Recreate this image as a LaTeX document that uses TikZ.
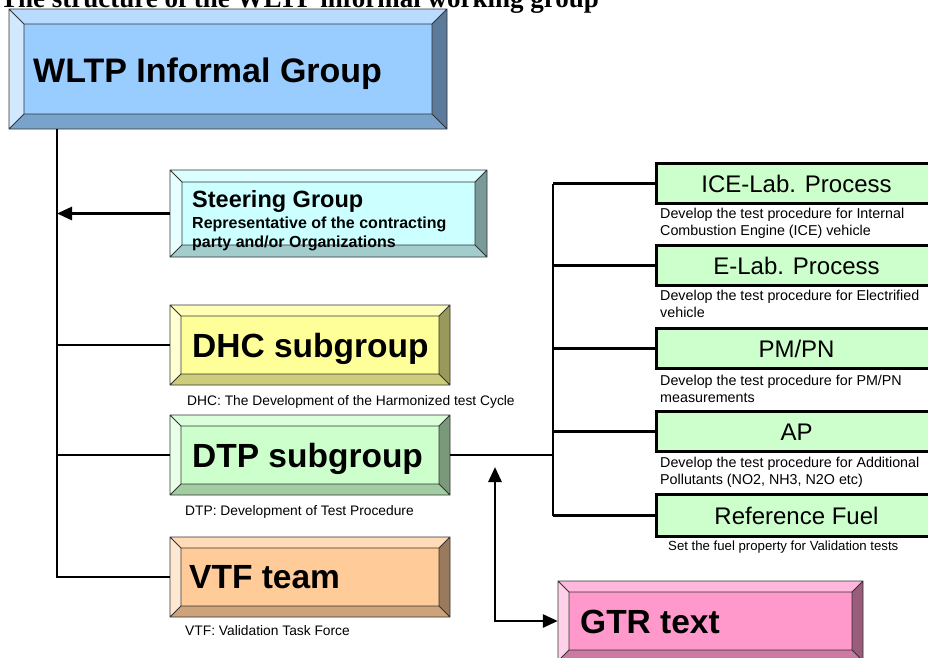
\documentclass[tikz,border=0pt]{standalone}
\usepackage{fontspec}
\setmainfont{Liberation Sans}
\newfontfamily\ttlfamily{Liberation Serif}
\usetikzlibrary{arrows.meta,fit}
\definecolor{cwltp}{HTML}{99CCFF}
\definecolor{csteer}{HTML}{CCFFFF}
\definecolor{cdhc}{HTML}{FFFF99}
\definecolor{cdtp}{HTML}{CCFFCC}
\definecolor{cvtf}{HTML}{FFCC99}
\definecolor{cgtr}{HTML}{FF99CC}
\definecolor{cgreen}{HTML}{CCFFCC}
\definecolor{cline}{HTML}{333333}
\tikzset{
  bevline/.style={draw=cline,line width=0.8pt},
  conn/.style={draw=black,line width=2.8pt},
  arrowconn/.style={conn,-{Triangle[length=15pt,width=13pt]}},
  dblconn/.style={conn,{Triangle[length=15pt,width=13pt]}-{Triangle[length=15pt,width=13pt]}},
  greenbox/.style={draw=black,line width=3pt,fill=cgreen,anchor=north west,
    minimum width=280pt,minimum height=40pt,inner sep=0pt,
    font=\fontsize{24}{28}\selectfont,text height=17.2pt,text depth=0pt},
  bigtext/.style={anchor=base west,inner sep=0pt,font=\fontsize{33.5}{40}\selectfont\bfseries},
  caption/.style={anchor=base west,inner sep=0pt,align=left,font=\fontsize{13.8}{17}\selectfont},
  gcaption/.style={anchor=base west,inner sep=0pt,align=left,font=\fontsize{14.3}{17}\selectfont},
}
\newcommand{\bevelbox}[7]{%
  \fill[#7!45!white] (#2,#3) -- ({#2+#6},{#3+#6}) -- ({#2+#6},{#5-#6}) -- (#2,#5) -- cycle;
  \fill[#7!70!white] (#2,#3) -- (#4,#3) -- ({#4-#6},{#3+#6}) -- ({#2+#6},{#3+#6}) -- cycle;
  \fill[#7!60!black] (#4,#3) -- (#4,#5) -- ({#4-#6},{#5-#6}) -- ({#4-#6},{#3+#6}) -- cycle;
  \fill[#7!80!black] (#2,#5) -- (#4,#5) -- ({#4-#6},{#5-#6}) -- ({#2+#6},{#5-#6}) -- cycle;
  \fill[#7] ({#2+#6},{#3+#6}) rectangle ({#4-#6},{#5-#6});
  \draw[bevline] (#2,#3) rectangle (#4,#5) ({#2+#6},{#3+#6}) rectangle ({#4-#6},{#5-#6})
    (#2,#3) -- ({#2+#6},{#3+#6}) (#4,#3) -- ({#4-#6},{#3+#6})
    (#4,#5) -- ({#4-#6},{#5-#6}) (#2,#5) -- ({#2+#6},{#5-#6});
  \path (#2,#3) coordinate (#1-nw) (#4,#5) coordinate (#1-se);
  \node[fit=(#1-nw)(#1-se),inner sep=0pt] (#1) {};
}
\begin{document}
\begin{tikzpicture}[x=1pt,y=-1pt]
\useasboundingbox (0,0) rectangle (928,657);
\fill[white] (0,0) rectangle (928,657);

% title (cut off at the top)
\node[anchor=base west,inner sep=0pt,font=\ttlfamily\bfseries\fontsize{27}{30}\selectfont] (title) at (0,7)
  {The structure of the WLTP informal working group};

% bevelled boxes
\bevelbox{wltp}{9}{9}{447}{129}{15}{cwltp}
\node[anchor=base west,inner sep=0pt,font=\fontsize{34}{40}\selectfont\bfseries] (wltptxt) at (33,82) {WLTP Informal Group};

\bevelbox{steer}{170}{170}{487}{257}{12}{csteer}
\node[anchor=base west,inner sep=0pt,font=\fontsize{23.5}{28}\selectfont\bfseries] (steertxt) at (192,207) {Steering Group};
\node[anchor=base west,inner sep=0pt,align=left,font=\fontsize{16}{19}\selectfont\bfseries] (steersub) at (192,247)
  {Representative of the contracting\\party and/or Organizations};

\bevelbox{dhc}{170}{305}{450}{385}{11}{cdhc}
\node[bigtext] (dhctxt) at (192,357) {DHC subgroup};
\node[caption] (dhccap) at (187,405) {DHC: The Development of the Harmonized test Cycle};

\bevelbox{dtp}{170}{415}{450}{495}{11}{cdtp}
\node[bigtext] (dtptxt) at (192,467) {DTP subgroup};
\node[caption] (dtpcap) at (185,515) {DTP: Development of Test Procedure};

\bevelbox{vtf}{170}{537}{450}{617}{11}{cvtf}
\node[bigtext] (vtftxt) at (189,588) {VTF team};
\node[caption] (vtfcap) at (185,635) {VTF: Validation Task Force};

\bevelbox{gtr}{558}{581}{863}{661}{11}{cgtr}
\node[bigtext] (gtrtxt) at (580,633) {GTR text};

% green process boxes
\node[greenbox] (ice) at (655,162) {ICE-Lab. Process};
\node[gcaption] (icecap) at (660,235) {Develop the test procedure for Internal\\Combustion Engine (ICE) vehicle};
\node[greenbox] (elab) at (655,244) {E-Lab. Process};
\node[gcaption] (elabcap) at (660,317) {Develop the test procedure for Electrified\\vehicle};
\node[greenbox] (pmpn) at (655,327) {PM/PN};
\node[gcaption] (pmpncap) at (660,402) {Develop the test procedure for PM/PN\\measurements};
\node[greenbox] (ap) at (655,410) {AP};
\node[gcaption] (apcap) at (660,484) {Develop the test procedure for Additional\\Pollutants (NO2, NH3, N2O etc)};
\node[greenbox,minimum height=42pt] (ref) at (655,493) {Reference Fuel};
\node[caption,font=\fontsize{13.2}{16}\selectfont] (refcap) at (668,550) {Set the fuel property for Validation tests};

% left trunk
\coordinate (ltrunk) at (57,0);
\draw[conn] (wltp.south -| ltrunk) -- (vtf.west -| ltrunk) -- (vtf.west);
\draw[conn] (dhc.west -| ltrunk) -- (dhc.west);
\draw[conn] (dtp.west -| ltrunk) -- (dtp.west);
\draw[arrowconn] (steer.west) -- (steer.west -| ltrunk);

% right trunk
\coordinate (rtrunk) at (553,0);
\draw[conn] (ice.west -| rtrunk) -- (ref.west -| rtrunk);
\draw[conn] (dtp.east) -- (dtp.east -| rtrunk);
\draw[conn] (ice.west -| rtrunk) -- (ice.west);
\draw[conn] (elab.west -| rtrunk) -- (elab.west);
\draw[conn] (pmpn.west -| rtrunk) -- (pmpn.west);
\draw[conn] (ap.west -| rtrunk) -- (ap.west);
\draw[conn] (ref.west -| rtrunk) -- (ref.west);

% GTR connector
\coordinate (gtrup) at (495,467);
\draw[dblconn] (gtrup) |- (gtr.west);
\end{tikzpicture}
\end{document}
